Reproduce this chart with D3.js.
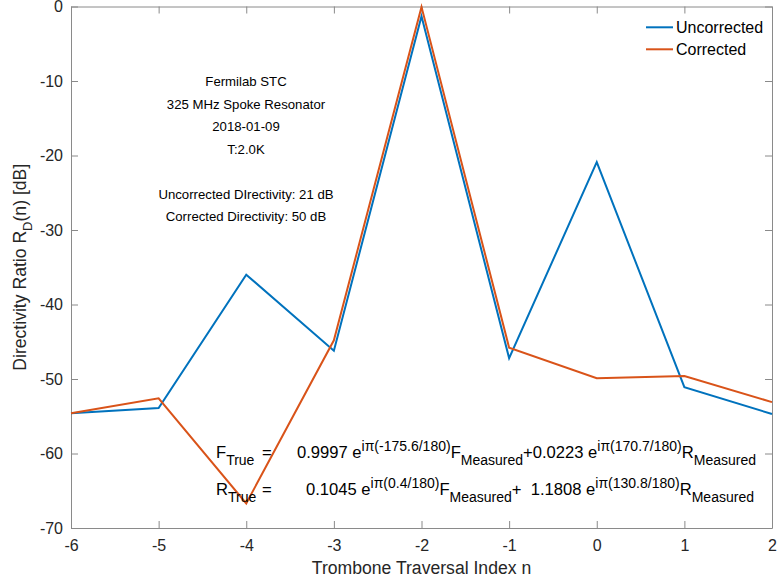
<!DOCTYPE html>
<html>
<head>
<meta charset="utf-8">
<script src="https://cdn.jsdelivr.net/npm/d3@7"></script>
<style>
  body { margin: 0; background: #fff; }
  svg { font-family: "Liberation Sans", Arial, Helvetica, sans-serif; }
</style>
</head>
<body>
<svg width="777" height="584"></svg>
<script>
// data
const traversalIndex = [-6, -5, -4, -3, -2, -1, 0, 1, 2]
const uncorrected = [-54.6, -53.9, -36.0, -46.2, -1.3, -47.2, -20.9, -51.1, -54.7]
const corrected = [-54.6, -52.6, -66.7, -44.8, -0.05, -45.8, -49.9, -49.6, -53.1]
const xTicks = [-6, -5, -4, -3, -2, -1, 0, 1, 2]
const yTicks = [0, -10, -20, -30, -40, -50, -60, -70]
const seriesNames = ['Uncorrected', 'Corrected']
const infoLines = ['Fermilab STC', '325 MHz Spoke Resonator', '2018-01-09', 'T:2.0K', '',
  'Uncorrected DIrectivity: 21 dB', 'Corrected Directivity: 50 dB']
const eqRows = [
  [['F', ''], ['True', 'sub'], ['=', ''], ['0.9997 e', ''], ['iπ(-175.6/180)', 'sup'], ['F', ''], ['Measured', 'sub'],
   ['+0.0223 e', ''], ['iπ(170.7/180)', 'sup'], ['R', ''], ['Measured', 'sub']],
  [['R', ''], ['True', 'sub'], ['=', ''], ['0.1045 e', ''], ['iπ(0.4/180)', 'sup'], ['F', ''], ['Measured', 'sub'],
   ['+  1.1808 e', ''], ['iπ(130.8/180)', 'sup'], ['R', ''], ['Measured', 'sub']]
]

const svg = d3.select('svg')
const mLeft = 71, mRight = 772, mTop = 6.5, mBottom = 528
const axisColor = '#8a8a8a', textColor = '#262626'
                  //blue      //orange
const colors = ['#0072BD', '#D95319']

const x = d3.scaleLinear().domain([-6, 2]).range([mLeft, mRight])
const y = d3.scaleLinear().domain([-70, 0]).range([mBottom, mTop])

// axes with inward ticks, box on
const tick = 7
const fmt = d => String(d)
const gx = svg.append('g').attr('transform', `translate(0,${mBottom})`)
  .call(d3.axisBottom(x).tickValues(xTicks).tickFormat(fmt).tickSizeInner(-tick).tickSizeOuter(0).tickPadding(12))
const gxTop = svg.append('g').attr('transform', `translate(0,${mTop})`)
  .call(d3.axisTop(x).tickValues(xTicks).tickSizeInner(-tick).tickSizeOuter(0).tickFormat(''))
const gy = svg.append('g').attr('transform', `translate(${mLeft},0)`)
  .call(d3.axisLeft(y).tickValues(yTicks).tickFormat(fmt).tickSizeInner(-tick).tickSizeOuter(0).tickPadding(8))
const gyRight = svg.append('g').attr('transform', `translate(${mRight},0)`)
  .call(d3.axisRight(y).tickValues(yTicks).tickSizeInner(-tick).tickSizeOuter(0).tickFormat(''))

;[gx, gxTop, gy, gyRight].forEach(g => {
  g.select('.domain').attr('stroke', axisColor)
  g.selectAll('.tick line').attr('stroke', axisColor)
  g.selectAll('.tick text').attr('fill', textColor).attr('font-size', 16)
    .attr('font-family', '"Liberation Sans", Arial, sans-serif')
})

// axis titles
svg.append('text').attr('x', (mLeft + mRight) / 2).attr('y', 574).attr('text-anchor', 'middle')
  .attr('font-size', 17.6).attr('fill', textColor).text('Trombone Traversal Index n')

const yTitle = svg.append('text').attr('transform', `translate(26,${(mTop + mBottom) / 2}) rotate(-90)`)
  .attr('text-anchor', 'middle').attr('font-size', 17.6).attr('fill', textColor)
yTitle.append('tspan').text('Directivity Ratio R')
yTitle.append('tspan').attr('font-size', 13).attr('dy', 6).text('D')
yTitle.append('tspan').attr('dy', -6).text('(n) [dB]')

// lines
const line = d3.line().x((d, i) => x(traversalIndex[i])).y(d => y(d))
;[uncorrected, corrected].forEach((s, i) => {
  svg.append('path').datum(s).attr('d', line).attr('fill', 'none')
    .attr('stroke', colors[i]).attr('stroke-width', 2).attr('stroke-linejoin', 'miter')
})

// legend
seriesNames.forEach((name, i) => {
  const ly = 27.3 + i * 22
  svg.append('line').attr('x1', 646).attr('x2', 673).attr('y1', ly).attr('y2', ly)
    .attr('stroke', colors[i]).attr('stroke-width', 2)
  svg.append('text').attr('x', 676).attr('y', ly).attr('dy', '0.35em')
    .attr('font-size', 16).attr('fill', '#000').text(name)
})

// info block
infoLines.forEach((t, i) => {
  svg.append('text').attr('x', 246).attr('y', 81.7 + i * 22.5).attr('dy', '0.35em')
    .attr('text-anchor', 'middle').attr('font-size', 13.2).attr('fill', '#000').text(t)
})

// equations
const eqY = [458, 495]
const eqTabs = [{0: 216, 2: 262, 3: 297}, {0: 216, 2: 262, 3: 306}]
eqRows.forEach((row, r) => {
  const t = svg.append('text').attr('y', eqY[r]).attr('font-size', 16.6).attr('fill', '#000')
    .style('white-space', 'pre')
  let off = 0
  row.forEach(([txt, kind], k) => {
    const target = kind === 'sub' ? 7 : kind === 'sup' ? -7 : 0
    const ts = t.append('tspan').attr('dy', target - off).text(txt)
    if (kind) ts.attr('font-size', 14)
    if (eqTabs[r][k] != null) ts.attr('x', eqTabs[r][k])
    off = target
  })
})
</script>
</body>
</html>
